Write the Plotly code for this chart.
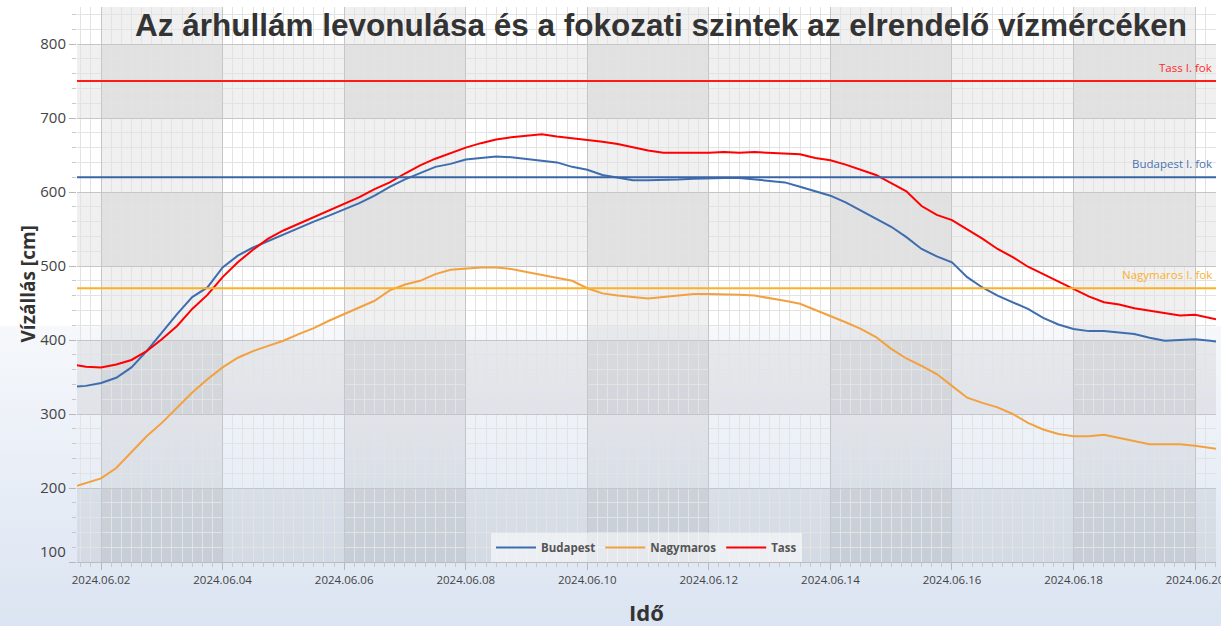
import base64
import pandas as pd
import plotly.graph_objects as go

# ---------------- data ----------------
times = (["2024-06-01 14:30", "2024-06-01 18:00"]
         + list(pd.date_range("2024-06-02 00:00", "2024-06-20 06:00", freq="6h").strftime("%Y-%m-%d %H:%M"))
         + ["2024-06-20 08:15"])

budapest = [337, 338, 342, 349, 363, 385, 410, 435, 458, 471,
            498, 514, 525, 534, 543, 552, 560, 568, 576, 585,
            595, 607, 617, 625, 634, 638, 644, 646, 648, 647,
            645, 642, 640, 634, 630, 623, 620, 616, 616, 616,
            617, 618, 619, 619, 619, 617, 616, 613, 607, 601,
            595, 586, 575, 564, 553, 539, 523, 513, 505, 485,
            471, 460, 451, 442, 430, 421, 415, 412, 412, 410,
            408, 403, 399, 400, 401, 399, 398]

nagymaros = [203, 207, 213, 227, 248, 270, 288, 309, 329, 347,
             363, 376, 385, 392, 399, 408, 416, 426, 435, 443,
             453, 467, 475, 480, 489, 495, 497, 498, 498, 496,
             492, 488, 485, 480, 470, 463, 460, 458, 456, 458,
             460, 462, 462, 462, 461, 460, 457, 453, 449, 441,
             433, 424, 415, 404, 388, 375, 365, 354, 338, 322,
             315, 309, 300, 288, 279, 273, 270, 270, 272, 268,
             263, 259, 259, 259, 257, 254, 253]

tass = [366, 364, 363, 367, 373, 385, 401, 419, 442, 461,
        485, 505, 522, 537, 548, 557, 566, 576, 584, 593,
        604, 613, 625, 636, 645, 653, 660, 666, 671, 674,
        676, 678, 675, 673, 671, 668, 665, 660, 656, 653,
        653, 652, 653, 654, 653, 654, 653, 653, 651, 646,
        643, 637, 630, 623, 612, 601, 581, 569, 562, 550,
        537, 523, 512, 499, 489, 480, 469, 459, 451, 448,
        443, 440, 436, 433, 434, 430, 428]

series_names = ["Budapest", "Nagymaros", "Tass"]
threshold_labels = ["Tass I. fok", "Budapest I. fok", "Nagymaros I. fok"]
threshold_values = [750, 620, 470]

y_ticks = [100, 200, 300, 400, 500, 600, 700, 800]
x_ticks = ["2024-06-02", "2024-06-04", "2024-06-06", "2024-06-08", "2024-06-10",
           "2024-06-12", "2024-06-14", "2024-06-16", "2024-06-18", "2024-06-20"]

# ---------------- style ----------------
C_BUD = "#3e6daf"
C_NAGY = "#f3a03f"
C_TASS = "#ff0000"
TH_COLORS = ["#ff1a1a", "#3a64a6", "#fdb023"]
LBL_COLORS = ["#ff2a2a", "#4a72b0", "#f9b030"]
FONT = "Open Sans, Noto Sans, sans-serif"

X_RANGE = ["2024-06-01 14:30", "2024-06-20 08:15"]
Y_RANGE = [100, 850]

fig = go.Figure()
for name, vals, col in zip(series_names, [budapest, nagymaros, tass], [C_BUD, C_NAGY, C_TASS]):
    fig.add_trace(go.Scatter(x=times, y=vals, name=name, mode="lines",
                             line=dict(color=col, width=2)))

# background gradient (paper)
svg = ('<svg xmlns="http://www.w3.org/2000/svg" width="1221" height="626" preserveAspectRatio="none">'
       '<defs><linearGradient id="g" x1="0" y1="0" x2="0" y2="1">'
       '<stop offset="0" stop-color="#ffffff"/><stop offset="0.52" stop-color="#ffffff"/>'
       '<stop offset="0.522" stop-color="#f6f8fb"/><stop offset="1" stop-color="#dbe4f2"/>'
       '</linearGradient></defs><rect width="1221" height="626" fill="url(#g)"/></svg>')
src = "data:image/svg+xml;base64," + base64.b64encode(svg.encode()).decode()

L, R, T, B = 77, 5, 7, 64
W, H = 1221, 626
pw, ph = W - L - R, H - T - B
fig.add_layout_image(dict(source=src, xref="paper", yref="paper",
                          x=-L / pw, y=1 + T / ph, sizex=W / pw, sizey=H / ph,
                          xanchor="left", yanchor="top", sizing="stretch", layer="below"))

shapes = []
# alternating column bands
for i in range(0, len(x_ticks) - 1, 2):
    shapes.append(dict(type="rect", xref="x", yref="paper", x0=x_ticks[i], x1=x_ticks[i + 1],
                       y0=0, y1=1, fillcolor="rgba(0,0,0,0.06)", line=dict(width=0), layer="below"))
# alternating row bands
for i in range(0, len(y_ticks) - 1, 2):
    shapes.append(dict(type="rect", xref="paper", yref="y", x0=0, x1=1,
                       y0=y_ticks[i], y1=y_ticks[i + 1], fillcolor="rgba(0,0,0,0.06)",
                       line=dict(width=0), layer="below"))
# threshold lines
for v, c in zip(threshold_values, TH_COLORS):
    shapes.append(dict(type="line", xref="paper", yref="y", x0=0, x1=1, y0=v, y1=v,
                       line=dict(color=c, width=2), layer="above"))
fig.update_layout(shapes=shapes)

annotations = []
for lbl, v, c in zip(threshold_labels, threshold_values, LBL_COLORS):
    annotations.append(dict(text=lbl, xref="paper", yref="y", x=1, y=v, xanchor="right",
                            yanchor="bottom", xshift=-2, yshift=4, showarrow=False,
                            font=dict(family=FONT, size=11.5, color=c)))
annotations.append(dict(text="100", xref="paper", yref="y", x=0, y=100, xanchor="right",
                        yanchor="bottom", xshift=-9, yshift=-1, showarrow=False,
                        font=dict(family=FONT, size=15, color="#444444")))
annotations.append(dict(text="Vízállás [cm]", xref="paper", yref="paper", x=0, y=0.5,
                        xshift=-50, xanchor="center", yanchor="middle", textangle=-90,
                        showarrow=False,
                        font=dict(family=FONT, size=19, color="#333333", weight="bold")))
annotations.append(dict(text="Idő", xref="paper", yref="paper", x=0.5, y=0,
                        yshift=-50, xanchor="center", yanchor="middle", showarrow=False,
                        font=dict(family=FONT, size=22, color="#333333", weight="bold")))
fig.update_layout(annotations=annotations)

fig.update_layout(
    width=W, height=H,
    margin=dict(l=L, r=R, t=T, b=B, autoexpand=False),
    paper_bgcolor="white",
    plot_bgcolor="rgba(0,0,0,0)",
    title=dict(text="Az árhullám levonulása és a fokozati szintek az elrendelő vízmércéken",
               x=661 / W, xref="container", xanchor="center",
               y=1 - 25 / H, yref="container", yanchor="middle",
               font=dict(family="Liberation Sans, Arial, sans-serif", size=31.5,
                         color="#333333", weight="bold")),
    legend=dict(orientation="h", x=0.5, xanchor="center", y=0, yanchor="bottom",
                bgcolor="rgba(255,255,255,0.55)", borderwidth=0, itemwidth=40,
                font=dict(family=FONT, size=11.5, color="#555555", weight="bold")),
    showlegend=True,
)

fig.update_xaxes(
    type="date", range=X_RANGE, tickvals=x_ticks, tickformat="%Y.%m.%d",
    tickfont=dict(family=FONT, size=11.5, color="#444444"),
    ticklabeloverflow="allow", automargin=False,
    showgrid=True, gridcolor="#c6c6c6", gridwidth=1,
    ticks="outside", ticklen=7, tickcolor="#b8b8b8",
    showline=True, linecolor="#bcbcbc", linewidth=1,
    zeroline=False,
    minor=dict(dtick=4 * 3600 * 1000, tick0="2024-06-02", showgrid=True, gridcolor="#e3e3e3",
               ticks="outside", ticklen=4, tickcolor="#c8c8c8"),
)
fig.update_yaxes(
    range=Y_RANGE, tickvals=y_ticks, ticktext=[""] + [str(v) for v in y_ticks[1:]],
    tickfont=dict(family=FONT, size=15, color="#444444"),
    automargin=False,
    showgrid=True, gridcolor="#c6c6c6", gridwidth=1,
    ticks="outside", ticklen=7, tickcolor="#b8b8b8",
    showline=False, zeroline=False,
    minor=dict(dtick=20, tick0=0, showgrid=True, gridcolor="#e3e3e3",
               ticks="outside", ticklen=4, tickcolor="#c8c8c8"),
)

fig.write_html("out.html", config={"displayModeBar": False},
               post_script="document.body.style.margin='0';")
